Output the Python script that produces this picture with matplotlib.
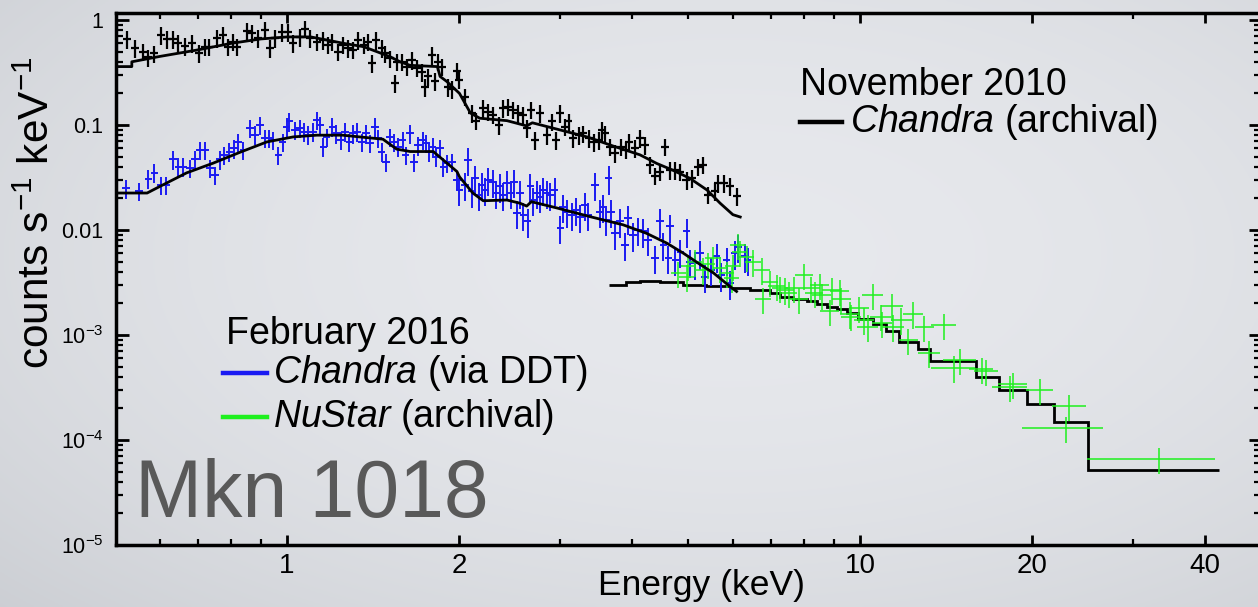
import numpy as np
import matplotlib
matplotlib.use("Agg")
import matplotlib.pyplot as plt
from matplotlib.lines import Line2D
from matplotlib.ticker import NullFormatter, LogLocator

plt.rcParams['font.family'] = ['Liberation Sans', 'DejaVu Sans']
plt.rcParams['mathtext.fontset'] = 'custom'
plt.rcParams['mathtext.rm'] = 'Liberation Sans'
plt.rcParams['mathtext.it'] = 'Liberation Sans:italic'
plt.rcParams['mathtext.bf'] = 'Liberation Sans:bold'

# Chandra, November 2010 (keV, counts/s/keV)
BLACK_E = [0.526, 0.543, 0.56, 0.572, 0.586, 0.603, 0.617, 0.632, 0.645, 0.664,
           0.682, 0.702, 0.72, 0.731, 0.754, 0.774, 0.789, 0.805, 0.818, 0.85,
           0.868, 0.89, 0.915, 0.934, 0.953, 0.979, 1.004, 1.024, 1.053, 1.075,
           1.097, 1.127, 1.157, 1.18, 1.197, 1.229, 1.254, 1.28, 1.305, 1.33,
           1.36, 1.387, 1.406, 1.43, 1.463, 1.482, 1.513, 1.543, 1.554, 1.586,
           1.617, 1.65, 1.684, 1.718, 1.741, 1.765, 1.789, 1.81, 1.836, 1.862,
           1.91, 1.94, 1.98, 2.0, 2.045, 2.10, 2.14, 2.20, 2.245, 2.29,
           2.34, 2.385, 2.435, 2.48, 2.53, 2.584, 2.62, 2.67, 2.71, 2.765,
           2.84, 2.9, 2.95, 3.0, 3.06, 3.1, 3.16, 3.23, 3.29, 3.36,
           3.43, 3.5, 3.54, 3.59, 3.66, 3.74, 3.83, 3.91, 3.96, 4.05,
           4.13, 4.21, 4.3, 4.39, 4.48, 4.57, 4.66, 4.76, 4.86, 4.98,
           5.09, 5.22, 5.33, 5.44, 5.59, 5.66, 5.78, 5.94, 6.1]
BLACK_Y = [0.66, 0.54, 0.50, 0.44, 0.48, 0.72, 0.66, 0.655, 0.60, 0.565,
           0.60, 0.485, 0.557, 0.557, 0.67, 0.72, 0.557, 0.62, 0.557, 0.79,
           0.747, 0.67, 0.80, 0.54, 0.67, 0.77, 0.77, 0.60, 0.69, 0.83,
           0.67, 0.62, 0.645, 0.58, 0.62, 0.50, 0.58, 0.54, 0.52, 0.645,
           0.58, 0.62, 0.386, 0.645, 0.54, 0.48, 0.43, 0.25, 0.40, 0.40,
           0.36, 0.415, 0.35, 0.32, 0.23, 0.29, 0.46, 0.26, 0.40, 0.36,
           0.23, 0.22, 0.33, 0.27, 0.186, 0.129, 0.11, 0.144, 0.134, 0.125,
           0.10, 0.144, 0.15, 0.14, 0.129, 0.125, 0.093, 0.14, 0.072, 0.129,
           0.08, 0.108, 0.072, 0.129, 0.096, 0.108, 0.075, 0.08, 0.083, 0.075,
           0.069, 0.072, 0.09, 0.083, 0.062, 0.054, 0.062, 0.058, 0.069, 0.06,
           0.075, 0.064, 0.042, 0.033, 0.036, 0.062, 0.037, 0.037, 0.036, 0.03,
           0.031, 0.04, 0.042, 0.0216, 0.0233, 0.028, 0.028, 0.026, 0.021]
BLACK_REL_ERR = 0.19
BLACK_X_FRAC = 0.016

BLACK_MODEL_E = [0.503, 0.536, 0.536, 0.60, 0.70, 0.80, 0.90, 1.0, 1.10, 1.173,
                 1.254, 1.36, 1.434, 1.513, 1.575, 1.64, 1.83, 1.85, 1.90, 2.0,
                 2.09, 2.17, 2.42, 2.55, 2.62, 2.68, 2.99, 3.34, 3.71, 4.13,
                 4.42, 4.72, 5.05, 5.41, 5.70, 6.00, 6.18]
BLACK_MODEL_Y = [0.36, 0.36, 0.40, 0.45, 0.52, 0.60, 0.66, 0.69, 0.69, 0.645,
                 0.60, 0.557, 0.50, 0.447, 0.40, 0.37, 0.36, 0.29, 0.26, 0.20,
                 0.13, 0.116, 0.11, 0.102, 0.098, 0.105, 0.09, 0.077, 0.063, 0.052,
                 0.043, 0.037, 0.031, 0.024, 0.018, 0.014, 0.0133]

# Chandra, February 2016 (DDT)
BLUE_E = [0.524, 0.552, 0.573, 0.587, 0.603, 0.616, 0.632, 0.646, 0.659, 0.677,
          0.691, 0.705, 0.72, 0.734, 0.749, 0.764, 0.776, 0.793, 0.809, 0.822,
          0.839, 0.862, 0.879, 0.897, 0.915, 0.931, 0.946, 0.966, 0.983, 0.999,
          1.01, 1.033, 1.053, 1.071, 1.09, 1.111, 1.127, 1.142, 1.157, 1.173,
          1.20, 1.22, 1.24, 1.262, 1.285, 1.305, 1.327, 1.35, 1.374, 1.396,
          1.424, 1.443, 1.463, 1.488, 1.513, 1.537, 1.563, 1.591, 1.61, 1.64,
          1.665, 1.694, 1.724, 1.748, 1.77, 1.795, 1.82, 1.85, 1.874, 1.9,
          1.94, 1.98, 2.0, 2.045, 2.07, 2.10, 2.13, 2.16, 2.19, 2.22,
          2.245, 2.29, 2.32, 2.35, 2.385, 2.42, 2.46, 2.49, 2.52, 2.55,
          2.585, 2.63, 2.66, 2.69, 2.73, 2.765, 2.80, 2.84, 2.88, 2.93,
          3.0, 3.03, 3.08, 3.14, 3.2, 3.25, 3.31, 3.35, 3.45, 3.52,
          3.56, 3.61, 3.64, 3.68, 3.74, 3.81, 3.89, 3.94, 4.02, 4.10,
          4.18, 4.27, 4.39, 4.48, 4.54, 4.63, 4.66, 4.76, 4.86, 4.98,
          5.05, 5.15, 5.26, 5.36, 5.5, 5.62, 5.73, 5.85, 5.93, 6.05,
          6.13, 6.3, 6.37]
BLUE_Y = [0.0249, 0.0236, 0.0309, 0.0352, 0.0269, 0.0269, 0.0471, 0.0401, 0.0401, 0.0387,
          0.0471, 0.0577, 0.0577, 0.0387, 0.0334, 0.0471, 0.0518, 0.0559, 0.0599, 0.0691,
          0.0577, 0.0932, 0.0808, 0.10, 0.0748, 0.0748, 0.072, 0.0518, 0.0691, 0.0963,
          0.108, 0.0894, 0.0932, 0.0863, 0.0808, 0.0863, 0.111, 0.10, 0.062, 0.077,
          0.0963, 0.083, 0.072, 0.0863, 0.0691, 0.083, 0.0863, 0.0691, 0.083, 0.067,
          0.0963, 0.0748, 0.0559, 0.0446, 0.077, 0.0691, 0.062, 0.072, 0.0518, 0.083,
          0.0446, 0.064, 0.072, 0.067, 0.0559, 0.062, 0.0498, 0.06, 0.0401, 0.0433,
          0.0446, 0.030, 0.024, 0.0269, 0.0464, 0.0233, 0.031, 0.0216, 0.0269, 0.024,
          0.030, 0.0289, 0.0224, 0.026, 0.0216, 0.0278, 0.0224, 0.0289, 0.0145, 0.0224,
          0.0139, 0.0121, 0.026, 0.0193, 0.0224, 0.0208, 0.024, 0.0224, 0.0216, 0.024,
          0.0104, 0.0167, 0.015, 0.0139, 0.0156, 0.0134, 0.0173, 0.0139, 0.0269, 0.015,
          0.0167, 0.0125, 0.031, 0.015, 0.0093, 0.0121, 0.0072, 0.0129, 0.0089, 0.010,
          0.0097, 0.0080, 0.0054, 0.0121, 0.0072, 0.0054, 0.0108, 0.0052, 0.0062, 0.0097,
          0.0050, 0.0048, 0.006, 0.0036, 0.0042, 0.0056, 0.0037, 0.0052, 0.0031, 0.006,
          0.0069, 0.0056, 0.0052]
BLUE_REL_ERR_SOFT = 0.2   # below 2 keV
BLUE_REL_ERR_HARD = 0.3   # above 2 keV
BLUE_X_FRAC = 0.015

BLUE_MODEL_E = [0.503, 0.57, 0.60, 0.668, 0.743, 0.828, 0.922, 1.025, 1.127, 1.25,
                1.34, 1.47, 1.554, 1.64, 1.80, 1.874, 1.98, 2.0, 2.11, 2.20,
                2.42, 2.55, 2.62, 2.67, 2.96, 3.38, 3.86, 4.24, 4.60, 4.92,
                5.26, 5.55, 5.93, 6.09]
BLUE_MODEL_Y = [0.0225, 0.0225, 0.026, 0.035, 0.0433, 0.055, 0.069, 0.077, 0.080, 0.080,
                0.077, 0.0733, 0.0589, 0.0559, 0.0559, 0.0464, 0.036, 0.0321, 0.0225, 0.0190,
                0.0193, 0.018, 0.0169, 0.0186, 0.0162, 0.0134, 0.0112, 0.0093, 0.0075, 0.006,
                0.0047, 0.0039, 0.0029, 0.0026]

# NuSTAR (archival)
GREEN_E = [4.82, 4.98, 5.02, 5.15, 5.32, 5.43, 5.54, 5.70, 5.85, 5.97,
           6.0, 6.13, 6.17, 6.34, 6.51, 6.74, 6.78, 6.97, 7.16, 7.26,
           7.41, 7.51, 7.67, 7.83, 7.99, 8.22, 8.33, 8.51, 8.57, 8.86,
           8.92, 9.22, 9.28, 9.59, 9.65, 9.97, 10.17, 10.31, 10.52, 10.87,
           10.94, 11.37, 11.44, 11.81, 12.15, 12.37, 12.95, 13.2, 14.0, 14.6,
           14.97, 16.3, 16.6, 18.3, 18.5, 20.6, 22.9, 23.2, 33.3]
GREEN_Y = [0.00387, 0.0036, 0.0045, 0.005, 0.0042, 0.0047, 0.0054, 0.0043, 0.0039, 0.0035,
           0.0045, 0.0072, 0.0062, 0.0055, 0.005, 0.0042, 0.0022, 0.0032, 0.0029, 0.0028,
           0.0027, 0.0025, 0.0028, 0.0022, 0.0037, 0.0028, 0.0025, 0.003, 0.0024, 0.0017,
           0.0027, 0.0026, 0.0022, 0.0016, 0.0015, 0.0018, 0.0014, 0.0012, 0.0024, 0.0015,
           0.0013, 0.0019, 0.0012, 0.0014, 0.00089, 0.0016, 0.00118, 0.00068, 0.00124, 0.00049,
           0.00058, 0.00047, 0.00045, 0.00032, 0.00034, 0.00030, 0.00013, 0.00021, 0.0000659]
GREEN_XERR = [0.15, 0.15, 0.15, 0.15, 0.16, 0.16, 0.17, 0.17, 0.18, 0.18,
              0.18, 0.19, 0.19, 0.2, 0.2, 0.22, 0.22, 0.23, 0.24, 0.24,
              0.25, 0.25, 0.26, 0.27, 0.28, 0.3, 0.3, 0.32, 0.32, 0.34,
              0.34, 0.36, 0.36, 0.38, 0.38, 0.4, 0.42, 0.42, 0.45, 0.45,
              0.45, 0.5, 0.5, 0.5, 0.45, 0.5, 0.5, 0.6, 0.7, 1.3,
              1.0, 0.8, 0.8, 1.3, 1.1, 1.1, 3.7, 1.6, 8.4]
GREEN_REL_ERR = 0.28

GREEN_MODEL_EDGES = [3.64, 3.9, 4.13, 4.48, 4.92, 5.39, 5.93, 6.42, 6.97, 7.26,
                     7.65, 8.07, 8.40, 8.75, 9.1, 9.48, 9.93, 10.55, 11.1, 11.7,
                     12.64, 13.25, 15.93, 17.5, 19.55, 21.78, 25.0, 42.3]
GREEN_MODEL_Y = [0.0030, 0.0032, 0.0033, 0.0032, 0.0030, 0.0029, 0.0028, 0.0027, 0.0025,
                 0.0023, 0.0022, 0.0021, 0.00197, 0.00186, 0.00175, 0.00162, 0.00141,
                 0.00126, 0.00108, 0.00085, 0.00074, 0.00056, 0.00040, 0.00030, 0.00022,
                 0.000148, 0.0000518]

W, H = 1258, 607
BLUE = '#1a1af2'
GREEN = '#1ef01e'


def fx(px):
    return px / W


def fy(py):
    return 1 - py / H


fig = plt.figure(figsize=(W / 100, H / 100), dpi=100)

# soft grey backdrop, a bit darker towards the edges
bg = fig.add_axes([0, 0, 1, 1], zorder=-1)
yy, xx = np.mgrid[0:1:300j, 0:1:600j]
r = np.sqrt(((xx - 0.58) / 0.8) ** 2 + ((yy - 0.42) / 0.85) ** 2)
t = np.clip(r, 0, 1) ** 2
c0 = np.array([0.905, 0.912, 0.928])
c1 = np.array([0.80, 0.81, 0.83])
img = c0 * (1 - t)[..., None] + c1 * t[..., None]
bg.imshow(img, extent=[0, 1, 0, 1], aspect='auto')
bg.axis('off')

ax = fig.add_axes([fx(116), fy(545), (1260.5 - 116) / W, (545 - 13) / H])
ax.set_facecolor('none')
ax.set_xscale('log')
ax.set_yscale('log')
ax.set_xlim(0.503, 50)
ax.set_ylim(1e-5, 1.166)

be = np.array(BLACK_E)
by = np.array(BLACK_Y)
ax.errorbar(be, by, xerr=be * BLACK_X_FRAC, yerr=by * BLACK_REL_ERR,
            fmt='none', ecolor='k', elinewidth=1.6, capsize=0)

ue = np.array(BLUE_E)
uy = np.array(BLUE_Y)
u_rel = np.where(ue < 2.0, BLUE_REL_ERR_SOFT, BLUE_REL_ERR_HARD)
ax.errorbar(ue, uy, xerr=ue * BLUE_X_FRAC, yerr=uy * u_rel,
            fmt='none', ecolor=BLUE, elinewidth=1.4, capsize=0)

ge = np.array(GREEN_E)
gy = np.array(GREEN_Y)
ax.errorbar(ge, gy, xerr=GREEN_XERR, yerr=gy * GREEN_REL_ERR,
            fmt='none', ecolor=GREEN, elinewidth=1.1, capsize=0)

# best-fit models
ax.plot(BLACK_MODEL_E, BLACK_MODEL_Y, color='k', lw=2)
ax.plot(BLUE_MODEL_E, BLUE_MODEL_Y, color='k', lw=2)
ax.stairs(GREEN_MODEL_Y, GREEN_MODEL_EDGES, color='k', lw=2, baseline=None)

# axes and ticks
ax.set_yticks([1e-5, 1e-4, 1e-3, 1e-2, 1e-1, 1])
ax.set_yticklabels([r'$\mathregular{10^{-5}}$', r'$\mathregular{10^{-4}}$',
                    r'$\mathregular{10^{-3}}$', '0.01', '0.1', '1'])
ax.yaxis.set_minor_locator(LogLocator(base=10, subs=range(2, 10), numticks=20))
ax.yaxis.set_minor_formatter(NullFormatter())

ax.set_xticks([1, 2, 10, 20, 40])
ax.set_xticklabels(['1', '2', '10', '20', '40'])
ax.set_xticks([0.6, 0.7, 0.8, 0.9, 3, 4, 5, 6, 7, 8, 9, 30], minor=True)
ax.xaxis.set_minor_formatter(NullFormatter())

ax.tick_params(which='both', direction='in', top=True, right=True, color='k')
ax.tick_params(axis='y', which='major', length=9, width=2, labelsize=15.5, pad=9)
ax.tick_params(axis='y', which='minor', length=5, width=1.6)
ax.tick_params(axis='x', which='major', length=7, width=2, labelsize=20, pad=6)
ax.tick_params(axis='x', which='minor', length=4.5, width=1.6)
for s in ax.spines.values():
    s.set_linewidth(2.5)

fig.text(fx(701), fy(586), 'Energy (keV)', fontsize=25.5, ha='center', va='center')
fig.text(fx(38), fy(213), r'counts s$^{\mathregular{-1}}$ keV$^{\mathregular{-1}}$',
         fontsize=30.5, rotation=90, ha='center', va='center')

# legend blocks
fig.text(fx(800), fy(95), 'November 2010', fontsize=27, va='baseline')
fig.add_artist(Line2D([fx(800), fx(842)], [fy(122), fy(122)], color='k', lw=3.2))
fig.text(fx(850), fy(132), r'$\mathit{Chandra}$ (archival)', fontsize=27, va='baseline')

fig.text(fx(226), fy(344), 'February 2016', fontsize=27, va='baseline')
fig.add_artist(Line2D([fx(223), fx(267)], [fy(373), fy(373)], color=BLUE, lw=3.2))
fig.text(fx(273), fy(383), r'$\mathit{Chandra}$ (via DDT)', fontsize=27, va='baseline')
fig.add_artist(Line2D([fx(223), fx(267)], [fy(417), fy(417)], color=GREEN, lw=3.2))
fig.text(fx(273), fy(427), r'$\mathit{NuStar}$ (archival)', fontsize=27, va='baseline')

fig.text(fx(135), fy(517), 'Mkn 1018', fontsize=58, color='#595959', va='baseline')

fig.savefig('out.png', dpi=100)
